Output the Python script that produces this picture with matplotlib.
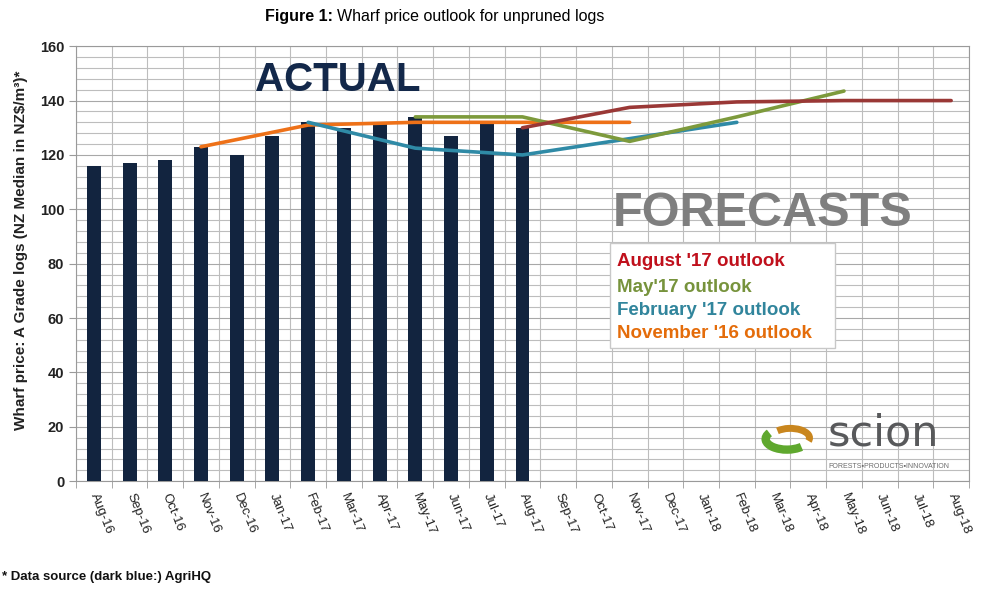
from matplotlib import pyplot as plt
from matplotlib import patches
import numpy as np

# Dados
meses = ['Aug-16', 'Sep-16', 'Oct-16', 'Nov-16', 'Dec-16', 'Jan-17', 'Feb-17',
         'Mar-17', 'Apr-17', 'May-17', 'Jun-17', 'Jul-17', 'Aug-17', 'Sep-17',
         'Oct-17', 'Nov-17', 'Dec-17', 'Jan-18', 'Feb-18', 'Mar-18', 'Apr-18',
         'May-18', 'Jun-18', 'Jul-18', 'Aug-18']

atual_meses = meses[:13]
atual = [116, 117, 118, 123, 120, 127, 132, 130, 132, 134, 127, 132, 130]

nov16_meses = ['Nov-16', 'Feb-17', 'May-17', 'Aug-17', 'Nov-17']
nov16 = [123, 131, 132, 132, 132]

feb17_meses = ['Feb-17', 'May-17', 'Aug-17', 'Nov-17', 'Feb-18']
feb17 = [132, 122.5, 120, 126, 132]

may17_meses = ['May-17', 'Aug-17', 'Nov-17', 'Feb-18', 'May-18']
may17 = [134, 134, 125, 134, 143.5]

aug17_meses = ['Aug-17', 'Nov-17', 'Feb-18', 'May-18', 'Aug-18']
aug17 = [130, 137.5, 139.5, 140, 140]

legenda = ["August '17 outlook", "May'17 outlook",
           "February '17 outlook", "November '16 outlook"]
cores_legenda = ['#c0101c', '#77933c', '#31859c', '#e46c0a']

FONTE = ['Liberation Sans', 'DejaVu Sans']
plt.rcParams['font.family'] = FONTE

fig = plt.figure(figsize=(10, 6), dpi=100)
ax = fig.add_axes([0.076, 0.198, 0.893, 0.725])

def px(x, y):
    # converte pixels da imagem (origem no topo) para coordenadas da figura
    return x / 1000, 1 - y / 600

pos = {m: i for i, m in enumerate(meses)}

# Barras (valores reais)
ax.bar([pos[m] for m in atual_meses], atual, width=0.39, color='#12243f', zorder=3)

# Linhas de previsão
series = [(nov16_meses, nov16, '#ee7118'),
          (feb17_meses, feb17, '#2f8aa6'),
          (may17_meses, may17, '#7d9a3c'),
          (aug17_meses, aug17, '#9a3836')]
for ms, vals, cor in series:
    ax.plot([pos[m] for m in ms], vals, color=cor, linewidth=2.6,
            solid_capstyle='round', zorder=4)

# Eixos e grade
ax.set_xlim(-0.5, 24.5)
ax.set_ylim(0, 160)
ax.set_yticks(np.arange(0, 161, 20))
ax.set_yticks(np.arange(0, 161, 4), minor=True)
ax.set_xticks(np.arange(len(meses)))
ax.set_xticks(np.arange(-0.5, len(meses), 1), minor=True)
ax.set_xticklabels(meses, rotation=-68, ha='left', va='center',
                   rotation_mode='anchor', fontsize=9.5, color='#222222')
ax.tick_params(axis='x', which='major', length=0, pad=9)
ax.tick_params(axis='x', which='minor', length=5, color='#9a9a9a')
ax.tick_params(axis='y', which='major', length=5, color='#9a9a9a',
               labelsize=10.5, labelcolor='#222222')
ax.tick_params(axis='y', which='minor', length=0)
for lab in ax.get_yticklabels():
    lab.set_fontweight('bold')

ax.grid(which='major', axis='y', color='#a8a8a8', linewidth=0.8, zorder=0)
ax.grid(which='minor', axis='both', color='#bdbdbd', linewidth=0.8, zorder=0)
ax.set_axisbelow(True)
for lado in ['left', 'bottom', 'right', 'top']:
    ax.spines[lado].set_color('#9a9a9a')
    ax.spines[lado].set_linewidth(0.8)

# Rótulo do eixo y
fig.text(*px(21, 250), 'Wharf price: A Grade logs (NZ Median in NZ\\$/m\u00b3)*',
         rotation=90, ha='center', va='center', fontsize=11,
         fontweight='bold', color='#222222')

# Título
fig.text(*px(333, 17), 'Figure 1:', ha='right', va='center',
         fontsize=11.5, fontweight='bold')
fig.text(*px(337, 17), 'Wharf price outlook for unpruned logs', ha='left',
         va='center', fontsize=11.5)

# Textos grandes
fig.text(*px(338, 80), 'ACTUAL', ha='center', va='center', fontsize=29,
         fontweight='bold', color='#13284a')
fig.text(*px(763, 214), 'FORECASTS', ha='center', va='center', fontsize=35,
         fontweight='bold', color='#7f7f7f')

# Caixa de legenda
caixa = patches.Rectangle(px(610, 348), 225 / 1000, 105 / 600,
                          transform=fig.transFigure, facecolor='white',
                          edgecolor='#c8c8c8', linewidth=1, zorder=5)
fig.patches.append(caixa)
for texto, cor, y in zip(legenda, cores_legenda, [262, 288, 310, 333]):
    fig.text(*px(617, y), texto, ha='left', va='center', fontsize=13.5,
             fontweight='bold', color=cor, zorder=6)

# Logo aproximado
logo = fig.add_axes([760 / 1000, 1 - 456 / 600, 54 / 1000, 34 / 600])
logo.set_xlim(-1.2, 1.2)
logo.set_ylim(-0.8, 0.8)
logo.axis('off')
logo.add_patch(patches.Arc((0, 0), 1.9, 1.0, theta1=160, theta2=330,
                           color='#5fa82e', linewidth=6))
logo.add_patch(patches.Arc((0.15, 0.05), 1.7, 0.9, theta1=-10, theta2=150,
                           color='#c9861e', linewidth=5))
fig.text(*px(828, 434), 'scion', ha='left', va='center', fontsize=31,
         family='DejaVu Sans', color='#58595b')
fig.text(*px(828, 467), 'FORESTS\u25aaPRODUCTS\u25aaINNOVATION', ha='left',
         va='center', fontsize=5, color='#6a6a6a')

# Nota de rodapé
fig.text(*px(2, 577), '* Data source (dark blue:) AgriHQ', ha='left',
         va='center', fontsize=9.5, fontweight='bold', color='#111111')

fig.savefig('out.png', dpi=100, facecolor='white')
